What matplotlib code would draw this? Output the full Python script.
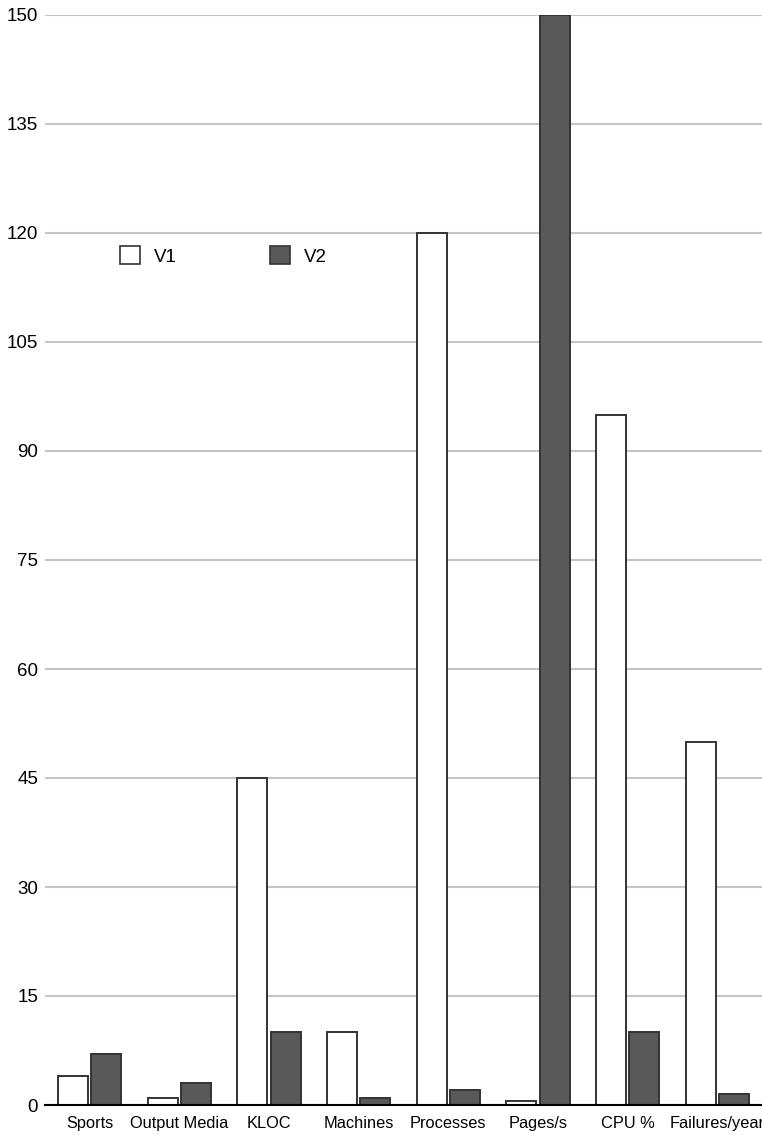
import numpy as np
import matplotlib
matplotlib.use('Agg')
import matplotlib.pyplot as plt
from matplotlib.patches import Patch

# - Dados do gráfico
categorias = ['Sports', 'Output Media', 'KLOC', 'Machines', 'Processes', 'Pages/s', 'CPU %', 'Failures/year']
valores_v1 = [4, 1, 45, 10, 120, 0.5, 95, 50]
valores_v2 = [7, 3, 10, 1, 2, 150, 10, 1.5]
ticks_y = [0, 15, 30, 45, 60, 75, 90, 105, 120, 135, 150]

plt.rcParams['font.family'] = ['Liberation Sans', 'DejaVu Sans']

fig = plt.figure(figsize=(7.62, 11.35), dpi=100)
ax = fig.add_axes([45 / 762, 1 - 1105 / 1135, 1 - 45 / 762, (1105 - 15) / 1135])

x = np.arange(len(categorias))
largura = 0.335
desloc = 0.185

ax.bar(x - desloc, valores_v1, largura, color='white', edgecolor='#333333', linewidth=1.4, zorder=3)
ax.bar(x + desloc, valores_v2, largura, color='#595959', edgecolor='#333333', linewidth=1.4, zorder=3)

ax.set_xlim(-0.5, len(categorias) - 0.5)
ax.set_ylim(0, 150)
ax.set_yticks(ticks_y)
ax.set_yticklabels([str(t) for t in ticks_y], fontsize=13.5)
ax.set_xticks(x)
ax.set_xticklabels(categorias, fontsize=11.8)
ax.tick_params(axis='y', length=0, pad=5)
ax.tick_params(axis='x', length=0, pad=8)

ax.yaxis.grid(True, color='#c4c4c4', linewidth=1.5, zorder=0)
ax.set_axisbelow(True)
for lado in ['left', 'right', 'top']:
    ax.spines[lado].set_visible(False)
ax.spines['bottom'].set_color('black')
ax.spines['bottom'].set_linewidth(1.5)
ax.spines['bottom'].set_zorder(4)

# - Legenda
handles = [Patch(facecolor='white', edgecolor='#333333', linewidth=1.2),
           Patch(facecolor='#595959', edgecolor='#333333', linewidth=1.2)]
fig.legend(handles, ['V1', 'V2'], loc='center left', bbox_to_anchor=(120 / 762, 1 - 256 / 1135),
           bbox_transform=fig.transFigure, ncol=2, frameon=False, fontsize=13.5,
           handlelength=1.05, handleheight=1.05, handletextpad=0.75, columnspacing=5.0,
           borderpad=0, borderaxespad=0)

fig.savefig('out.png', dpi=100)
